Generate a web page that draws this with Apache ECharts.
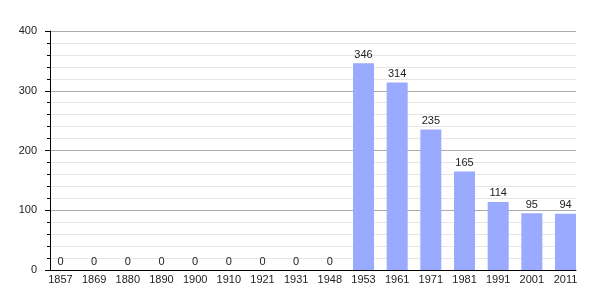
<!DOCTYPE html>
<html>
<head>
<meta charset="utf-8">
<script src="https://cdn.jsdelivr.net/npm/echarts@6/dist/echarts.min.js"></script>
<style>
html,body{margin:0;padding:0;background:#fff;}
#c{width:605px;height:300px;}
</style>
</head>
<body>
<div id="c"></div>
<script>
const categories = ['1857','1869','1880','1890','1900','1910','1921','1931','1948','1953','1961','1971','1981','1991','2001','2011'];
const population = [0,0,0,0,0,0,0,0,0,346,314,235,165,114,95,94];
const yMin = 0, yMax = 400, yStep = 100;

const font = 'Liberation Sans, Arial, sans-serif';
const chart = echarts.init(document.getElementById('c'), null, {renderer:'canvas'});
chart.setOption({
  animation: false,
  backgroundColor: '#ffffff',
  grid: [
    {left: 50, right: 29, top: 31, bottom: 30},
    {left: 43.65, right: 22.65, top: 31, bottom: 30}
  ],
  xAxis: [
    {gridIndex: 0, type: 'value', min: 0, max: 1,
     axisLine: {show: true, lineStyle: {color: '#000', width: 1}},
     axisTick: {show: false}, axisLabel: {show: false}, splitLine: {show: false}},
    {gridIndex: 1, type: 'category', data: categories,
     axisLine: {show: false}, axisTick: {show: false},
     axisLabel: {color: '#222', fontFamily: font, fontSize: 11, margin: 4, interval: 0}}
  ],
  yAxis: [
    {gridIndex: 0, type: 'value', min: yMin, max: yMax, interval: yStep,
     axisLine: {show: true, lineStyle: {color: '#000', width: 1}},
     axisTick: {show: true, length: 5, lineStyle: {color: '#000'}},
     minorTick: {show: true, splitNumber: 5, length: 3, lineStyle: {color: '#000'}},
     axisLabel: {color: '#222', fontFamily: font, fontSize: 11, margin: 13},
     splitLine: {show: true, lineStyle: {color: '#aaaaaa', width: 1}},
     minorSplitLine: {show: true, lineStyle: {color: '#e6e6e6', width: 1}}},
    {gridIndex: 1, type: 'value', min: yMin, max: yMax, show: false, splitLine: {show: false}}
  ],
  series: [{
    type: 'bar', xAxisIndex: 1, yAxisIndex: 1,
    data: population, barWidth: 21,
    itemStyle: {color: '#99aaff'},
    label: {show: true, position: 'top', distance: 3, color: '#222', fontFamily: font, fontSize: 11}
  }]
});
</script>
</body>
</html>
